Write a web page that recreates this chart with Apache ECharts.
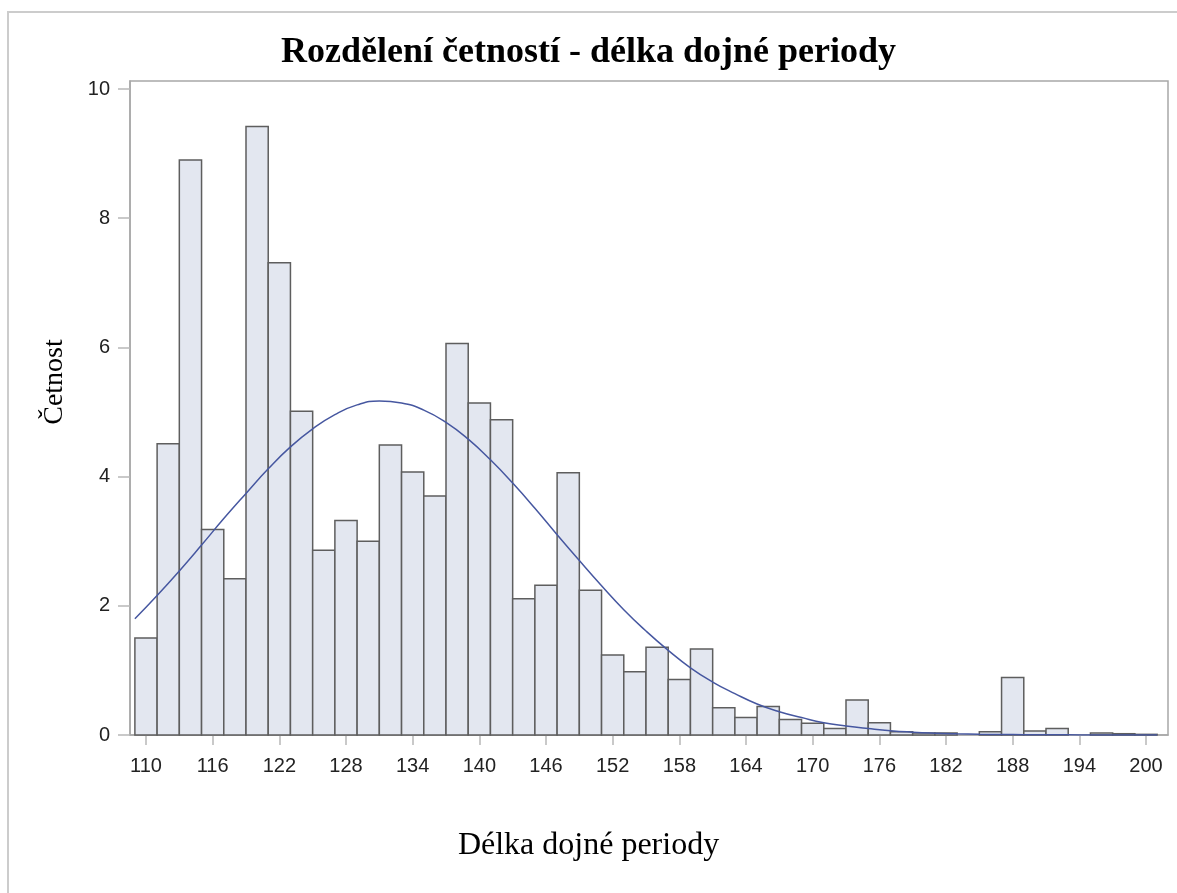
<!DOCTYPE html>
<html><head><meta charset="utf-8">
<script src="https://cdn.jsdelivr.net/npm/echarts@6/dist/echarts.min.js"></script>
<style>html,body{margin:0;padding:0;background:#fff}#c{width:1177px;height:893px}</style>
</head><body><div id="c"></div>
<script>
const chartTitle = 'Rozdělení četností - délka dojné periody';
const xAxisTitle = 'Délka dojné periody';
const yAxisTitle = 'Četnost';

const binCenters = [110,112,114,116,118,120,122,124,126,128,130,132,134,136,138,140,142,144,146,148,150,152,154,156,158,160,162,164,166,168,170,172,174,176,178,180,182,184,186,188,190,192,194,196,198,200];
const binValues = [1.50,4.51,8.90,3.18,2.42,9.42,7.31,5.01,2.86,3.32,3.00,4.49,4.07,3.70,6.06,5.14,4.88,2.11,2.32,4.06,2.24,1.24,0.98,1.36,0.86,1.33,0.42,0.27,0.44,0.24,0.18,0.10,0.54,0.19,0.05,0.03,0.03,0,0.05,0.89,0.06,0.10,0,0.03,0.02,0.01];

const curveX = [109,111,113,115,117,119,121,123,125,127,129,131,133,135,137,139,141,143,145,147,149,151,153,155,157,159,161,163,165,167,169,171,173,175,177,179,181,183,185,187,189,191,193,195,197,199,201];
const curveY = [1.80,2.16,2.54,2.94,3.35,3.74,4.12,4.46,4.74,4.96,5.11,5.17,5.14,5.03,4.84,4.58,4.26,3.90,3.51,3.10,2.70,2.31,1.94,1.61,1.31,1.04,0.82,0.64,0.48,0.36,0.27,0.19,0.14,0.10,0.066,0.044,0.029,0.019,0.012,0.008,0.005,0.003,0.002,0.001,0.0006,0.0003,0.0002];

const xTickLabels = [110,116,122,128,134,140,146,152,158,164,170,176,182,188,194,200];
const yTickLabels = [0,2,4,6,8,10];

const chart = echarts.init(document.getElementById('c'), null, {renderer:'canvas'});
const barData = binCenters.map((c,i)=>[c, binValues[i]]);
const curveData = curveX.map((x,i)=>[x, curveY[i]]);

chart.setOption({
  animation:false,
  backgroundColor:'#fff',
  title:{text:chartTitle, left:'center', top:30,
    textStyle:{fontFamily:'Liberation Serif', fontWeight:'bold', fontSize:36, color:'#000'}},
  grid:{left:130, right:9, top:81, bottom:158, show:true, borderColor:'#a8a8a8', borderWidth:1.5, backgroundColor:'transparent'},
  xAxis:{type:'value', min:108.56, max:201.98,
    axisLine:{show:true, lineStyle:{color:'#a8a8a8', width:1.5}},
    axisTick:{show:true, customValues:xTickLabels, length:10, lineStyle:{color:'#b8b8b8', width:1.5}},
    axisLabel:{customValues:xTickLabels, fontFamily:'Liberation Sans', fontSize:20, color:'#222', margin:21},
    splitLine:{show:false}},
  yAxis:{type:'value', min:0, max:10.124,
    axisLine:{show:true, lineStyle:{color:'#a8a8a8', width:1.5}},
    axisTick:{show:true, customValues:yTickLabels, length:12, lineStyle:{color:'#b8b8b8', width:1.5}},
    axisLabel:{customValues:yTickLabels, fontFamily:'Liberation Sans', fontSize:20, color:'#222', margin:20},
    splitLine:{show:false}},
  graphic:[
    {type:'rect', z:-10, silent:true, shape:{x:8, y:12, width:1300, height:1000}, style:{fill:'none', stroke:'#cccccc', lineWidth:2}},
    {type:'text', left:'center', top:830, style:{text:xAxisTitle, fontFamily:'Liberation Serif', fontSize:32, fill:'#000'}},
    {type:'text', x:55, y:382, rotation:Math.PI/2, style:{text:yAxisTitle, fontFamily:'Liberation Serif', fontSize:28, fill:'#000', align:'center', verticalAlign:'middle'}}
  ],
  series:[
    {type:'custom', data:barData, z:2,
      renderItem:function(params, api){
        const x = api.value(0), y = api.value(1);
        if (!(y > 0)) return {type:'group', children:[]};
        const p0 = api.coord([x-1, y]);
        const p1 = api.coord([x+1, 0]);
        return {type:'rect', shape:{x:p0[0], y:p0[1], width:p1[0]-p0[0], height:p1[1]-p0[1]},
          style:{fill:'#e3e7f0', stroke:'#5e5e5e', lineWidth:1.5}};
      }},
    {type:'line', data:curveData, smooth:true, showSymbol:false, z:3,
      lineStyle:{color:'#4657a0', width:1.5}}
  ]
});
</script></body></html>
